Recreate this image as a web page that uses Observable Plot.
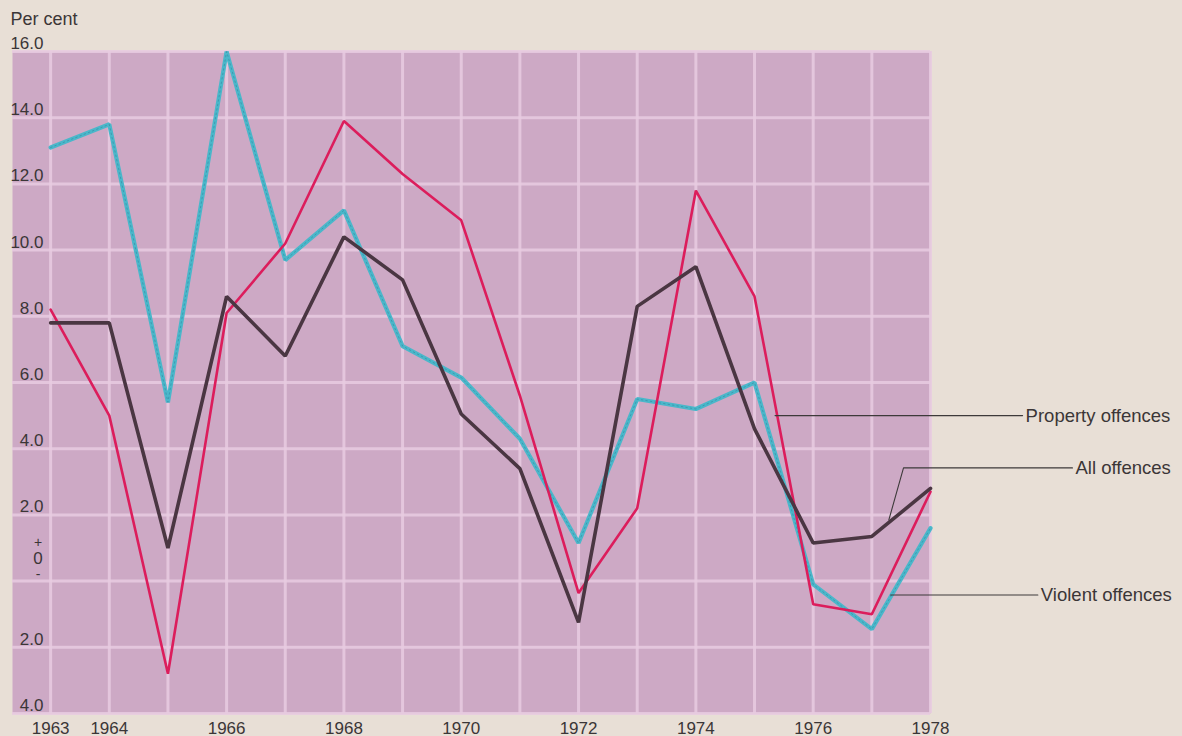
<!DOCTYPE html>
<html>
<head>
<meta charset="utf-8">
<script src="https://cdn.jsdelivr.net/npm/d3@7"></script>
<script src="https://cdn.jsdelivr.net/npm/@observablehq/plot@0.6"></script>
<style>
  html, body { margin: 0; padding: 0; background: #e8dfd6; }
  #chart { width: 1182px; height: 736px; overflow: hidden; }
</style>
</head>
<body>
<div id="chart"></div>
<script>
// ---- data ----
const years = [1963,1964,1965,1966,1967,1968,1969,1970,1971,1972,1973,1974,1975,1976,1977,1978];
const violentOffences  = [13.1, 13.8, 5.4, 16.0, 9.7, 11.2, 7.1, 6.15, 4.3, 1.15, 5.5, 5.2, 6.0, -0.1, -1.45, 1.6];
const propertyOffences = [8.2, 5.0, -2.8, 8.1, 10.2, 13.9, 12.3, 10.9, 5.6, -0.36, 2.2, 11.8, 8.6, -0.7, -1.0, 2.7];
const allOffences      = [7.8, 7.8, 1.0, 8.6, 6.8, 10.4, 9.1, 5.05, 3.4, -1.25, 8.3, 9.5, 4.6, 1.15, 1.35, 2.8];

const xTickYears = [1963,1964,1966,1968,1970,1972,1974,1976,1978];
const yTicks = [16,14,12,10,8,6,4,2,-2,-4];
const yTickLabels = ["16.0","14.0","12.0","10.0","8.0","6.0","4.0","2.0","2.0","4.0"];
const zeroSigns = ["+", "0", "-"];
const yGrid = [16,14,12,10,8,6,4,2,0,-2,-4];

const seriesNames = ["Violent offences", "Property offences", "All offences"];
// leader annotations: label, leader path points (year, value)
const legendLabels = ["Property offences", "All offences", "Violent offences"];
const legendPaths = [
  [[1975.35, 5.0], [1979.57, 5.0]],
  [[1977.29, 1.85], [1977.54, 3.42], [1980.42, 3.42]],
  [[1977.32, -0.42], [1979.83, -0.42]]
];

// ---- build table ----
const rows = [];
years.forEach((yr, i) => {
  rows.push({year: yr, value: violentOffences[i], series: seriesNames[0]});
  rows.push({year: yr, value: propertyOffences[i], series: seriesNames[1]});
  rows.push({year: yr, value: allOffences[i], series: seriesNames[2]});
});
const leaderRows = [];
legendPaths.forEach((pts, k) => pts.forEach(([x, y]) => leaderRows.push({x, y, k})));
const labelRows = legendPaths.map((pts, k) => ({x: pts[pts.length - 1][0], y: pts[pts.length - 1][1], label: legendLabels[k]}));

const textColor = "#3b3637";
const bg = "#cda9c5";
const grid = "#e8cbe0";

const chart = Plot.plot({
  width: 1182,
  height: 736,
  marginLeft: 12,
  marginRight: 252,
  marginTop: 51,
  marginBottom: 23,
  style: {background: "transparent", fontFamily: "'Liberation Sans', Arial, sans-serif", overflow: "visible"},
  x: {type: "linear", domain: [1962.35, 1978], axis: null},
  y: {domain: [-4, 16], axis: null},
  marks: [
    Plot.frame({fill: bg, stroke: "none"}),
    Plot.ruleX(years, {x: d => d, stroke: grid, strokeWidth: 3, strokeOpacity: 0.85}),
    Plot.ruleY(yGrid, {y: d => d, stroke: grid, strokeWidth: 3, strokeOpacity: 0.85}),
    // lines
    Plot.line(rows.filter(d => d.series === seriesNames[0]), {x: "year", y: "value", stroke: "#4ab7ca", strokeWidth: 4.2, strokeLinejoin: "miter"}),
    Plot.line(rows.filter(d => d.series === seriesNames[0]), {x: "year", y: "value", stroke: "#2a6f8a", strokeWidth: 1, strokeOpacity: 0.4, strokeDasharray: "1.5,3"}),
    Plot.line(rows.filter(d => d.series === seriesNames[1]), {x: "year", y: "value", stroke: "#dc1d5c", strokeWidth: 2.6, strokeLinejoin: "miter"}),
    Plot.line(rows.filter(d => d.series === seriesNames[2]), {x: "year", y: "value", stroke: "#4a3642", strokeWidth: 3.6, strokeLinejoin: "miter"}),
    // y labels
    Plot.text(yTicks, {y: d => d, text: (d, i) => yTickLabels[i], frameAnchor: "left", dx: 31, dy: -2.5, lineAnchor: "bottom", textAnchor: "end", fontSize: 17, fill: textColor}),
    Plot.text(zeroSigns, {y: () => 0, text: d => d, frameAnchor: "left", dx: 25.5, textAnchor: "middle", fontSize: 17, fill: textColor, lineAnchor: "bottom",
      // stacked "+", "0", "-" above the zero gridline
      render: (index, scales, values, dims, ctx, next) => {
        const g = next(index, scales, values, dims, ctx);
        const offs = [-34, -17, -2];
        d3.select(g).selectAll("text").each(function(_, j) {
          const t = d3.select(this);
          t.attr("transform", `translate(${dims.marginLeft},${scales.y(0) + offs[j]})`);
          if (j !== 1) t.attr("font-size", 14);
        });
        return g;
      }}),
    Plot.text(["Per cent"], {text: d => d, frameAnchor: "top-left", dx: -2, dy: -27, lineAnchor: "bottom", textAnchor: "start", fontSize: 18, fill: textColor, style: "letter-spacing:0.4px"}),
    // x labels
    Plot.text(xTickYears, {x: d => d, text: d => String(d), frameAnchor: "bottom", dy: 20, lineAnchor: "bottom", textAnchor: "middle", fontSize: 17, fill: textColor}),
    // leader lines and labels
    Plot.line(leaderRows, {x: "x", y: "y", z: "k", stroke: "#3d3a3a", strokeWidth: 1.1, clip: false}),
    Plot.text(labelRows, {x: "x", y: "y", text: "label", dx: 3, textAnchor: "start", fontSize: 18.5, fill: textColor, style: "letter-spacing:0.8px"})
  ]
});
document.getElementById("chart").appendChild(chart);
</script>
</body>
</html>
